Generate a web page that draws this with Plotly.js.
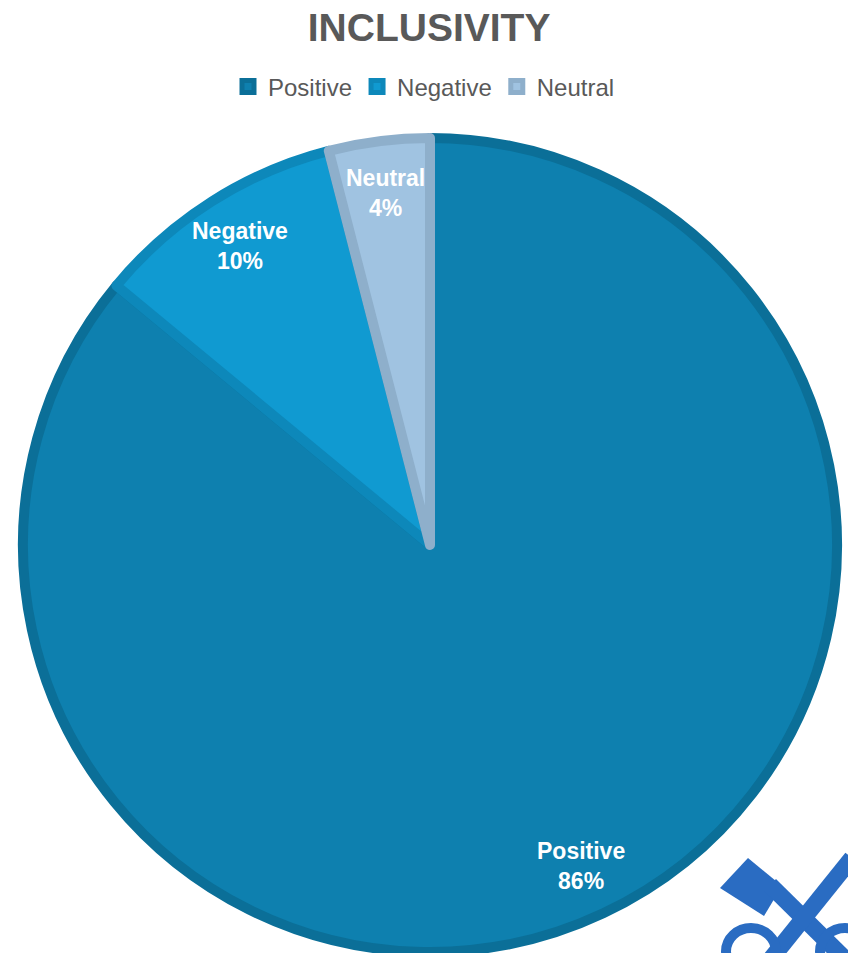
<!DOCTYPE html>
<html>
<head>
<meta charset="utf-8">
<script src="https://cdn.plot.ly/plotly-3.0.1.min.js"></script>
<style>
html,body{margin:0;padding:0;overflow:hidden;background:#fff;}
#chart{width:848px;height:960px;}
</style>
</head>
<body>
<div id="chart"></div>
<script>
// ---- data ----
const categories = ["Positive", "Negative", "Neutral"];
const values = [86, 10, 4];
const fillColors = ["#0E80AF", "#109AD1", "#A0C3E1"];
const borderColors = ["#0B6F98", "#0D88BA", "#8EAFCB"];
const chartTitle = "INCLUSIVITY";

// ---- geometry (pixels) ----
const W = 848, H = 960;
const cx = 430, cy = 545, R = 407, labelR = 0.86 * 412;
const px = x => x / W;
const py = y => 1 - y / H;

// label annotations computed from the data
const total = values.reduce((a, b) => a + b, 0);
let cum = 0;
const annotations = values.map((v, i) => {
  const mid = (cum + v / 2) / total * 2 * Math.PI;
  cum += v;
  const x = cx + labelR * Math.sin(mid);
  const y = cy - labelR * Math.cos(mid);
  return {
    xref: "paper", yref: "paper", x: px(x), y: py(y),
    xanchor: "center", yanchor: "middle", showarrow: false,
    text: "<b>" + categories[i] + "<br>" + Math.round(v / total * 100) + "%</b>",
    font: {family: "Liberation Sans, Arial, sans-serif", size: 23, color: "#ffffff"},
    align: "center"
  };
});

// decorative logo fragment (bottom-right corner)
const logoColor = "#2A6CC2";
const shapes = [
  {type: "path", xref: "paper", yref: "paper", layer: "above",
   path: `M ${px(748)} ${py(858)} L ${px(782)} ${py(886)} L ${px(764)} ${py(916)} L ${px(720)} ${py(888)} Z`,
   fillcolor: logoColor, line: {width: 0}},
  {type: "path", xref: "paper", yref: "paper", layer: "above",
   path: `M ${px(770)} ${py(885)} L ${px(848)} ${py(962)}`,
   line: {color: logoColor, width: 17}},
  {type: "path", xref: "paper", yref: "paper", layer: "above",
   path: `M ${px(852)} ${py(858)} L ${px(770)} ${py(960)}`,
   line: {color: logoColor, width: 17}},
  {type: "circle", xref: "paper", yref: "paper", layer: "above",
   x0: px(726), x1: px(776), y0: py(975), y1: py(928),
   line: {color: logoColor, width: 10}},
  {type: "circle", xref: "paper", yref: "paper", layer: "above",
   x0: px(820), x1: px(870), y0: py(975), y1: py(928),
   line: {color: logoColor, width: 10}}
];

const trace = {
  type: "pie",
  labels: categories,
  values: values,
  sort: false,
  direction: "clockwise",
  rotation: 0,
  textinfo: "none",
  hoverinfo: "label+percent",
  marker: {colors: fillColors, line: {color: borderColors, width: 10}},
  domain: {x: [px(cx - R), px(cx + R)], y: [py(cy + R), py(cy - R)]}
};

const layout = {
  width: W, height: H,
  margin: {l: 0, r: 0, t: 0, b: 0},
  paper_bgcolor: "#ffffff",
  title: {
    text: "<b>" + chartTitle + "</b>",
    x: 0.506, xanchor: "center", y: py(27), yanchor: "middle",
    font: {family: "Liberation Sans, Arial, sans-serif", size: 39, color: "#595959"}
  },
  showlegend: true,
  legend: {
    orientation: "h", x: 0.5, xanchor: "center", y: py(87), yanchor: "middle",
    font: {family: "Liberation Sans, Arial, sans-serif", size: 24, color: "#595959"},
    itemwidth: 30, traceorder: "normal"
  },
  annotations: annotations,
  shapes: shapes
};

Plotly.newPlot("chart", [trace], layout, {displayModeBar: false, staticPlot: true});
</script>
</body>
</html>
